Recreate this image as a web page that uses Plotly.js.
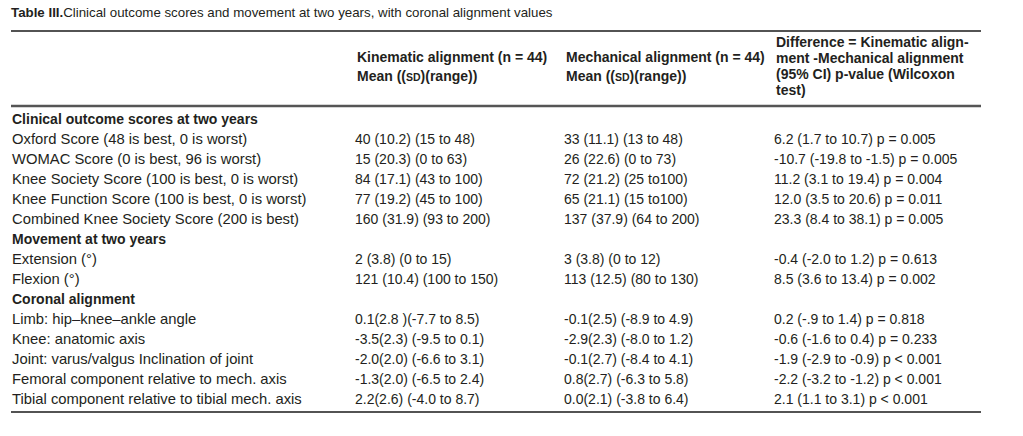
<!DOCTYPE html>
<html>
<head>
<meta charset="utf-8">
<script src="https://cdn.plot.ly/plotly-3.0.1.min.js"></script>
<style>html,body{margin:0;padding:0;background:#fff;}#chart{width:1023px;height:436px;}</style>
</head>
<body>
<div id="chart"></div>
<script>
// ---- data ----
const tableTitleBold = "Table III.";
const tableTitle = "Clinical outcome scores and movement at two years, with coronal alignment values";

const headerKinematic = ["Kinematic alignment (n = 44)", "Mean ((SD)(range))"];
const headerMechanical = ["Mechanical alignment (n = 44)", "Mean ((SD)(range))"];
const headerDifference = ["Difference = Kinematic align-", "ment -Mechanical alignment", "(95% CI) p-value (Wilcoxon", "test)"];

const sectionTitles = ["Clinical outcome scores at two years", "Movement at two years", "Coronal alignment"];

const measureLabels = [
  ["Oxford Score (48 is best, 0 is worst)", "WOMAC Score (0 is best, 96 is worst)", "Knee Society Score (100 is best, 0 is worst)", "Knee Function Score (100 is best, 0 is worst)", "Combined Knee Society Score (200 is best)"],
  ["Extension (°)", "Flexion (°)"],
  ["Limb: hip–knee–ankle angle", "Knee: anatomic axis", "Joint: varus/valgus Inclination of joint", "Femoral component relative to mech. axis", "Tibial component relative to tibial mech. axis"]
];

const kinematic = [
  ["40 (10.2) (15 to 48)", "15 (20.3) (0 to 63)", "84 (17.1) (43 to 100)", "77 (19.2) (45 to 100)", "160 (31.9) (93 to 200)"],
  ["2 (3.8) (0 to 15)", "121 (10.4) (100 to 150)"],
  ["0.1(2.8 )(-7.7 to 8.5)", "-3.5(2.3) (-9.5 to 0.1)", "-2.0(2.0) (-6.6 to 3.1)", "-1.3(2.0) (-6.5 to 2.4)", "2.2(2.6) (-4.0 to 8.7)"]
];

const mechanical = [
  ["33 (11.1) (13 to 48)", "26 (22.6) (0 to 73)", "72 (21.2) (25 to100)", "65 (21.1) (15 to100)", "137 (37.9) (64 to 200)"],
  ["3 (3.8) (0 to 12)", "113 (12.5) (80 to 130)"],
  ["-0.1(2.5) (-8.9 to 4.9)", "-2.9(2.3) (-8.0 to 1.2)", "-0.1(2.7) (-8.4 to 4.1)", "0.8(2.7) (-6.3 to 5.8)", "0.0(2.1) (-3.8 to 6.4)"]
];

const difference = [
  ["6.2 (1.7 to 10.7) p = 0.005", "-10.7 (-19.8 to -1.5) p = 0.005", "11.2 (3.1 to 19.4) p = 0.004", "12.0 (3.5 to 20.6) p = 0.011", "23.3 (8.4 to 38.1) p = 0.005"],
  ["-0.4 (-2.0 to 1.2) p = 0.613", "8.5 (3.6 to 13.4) p = 0.002"],
  ["0.2 (-.9 to 1.4) p = 0.818", "-0.6 (-1.6 to 0.4) p = 0.233", "-1.9 (-2.9 to -0.9) p < 0.001", "-2.2 (-3.2 to -1.2) p < 0.001", "2.1 (1.1 to 3.1) p < 0.001"]
];

// ---- build rows ----
const esc = s => s.replace(/&/g, "&amp;").replace(/</g, "&lt;").replace(/>/g, "&gt;");
const rowKeys = [];
const labelText = [];
const labelSize = [];
const valCols = [[[], []], [[], []], [[], []]]; // [y, text] per value column
sectionTitles.forEach((sec, si) => {
  rowKeys.push(sec);
  labelText.push("<b>" + esc(sec) + "</b>");
  labelSize.push(14);
  measureLabels[si].forEach((m, mi) => {
    rowKeys.push(m);
    labelText.push(esc(m));
    labelSize.push(14.8);
    [kinematic, mechanical, difference].forEach((arr, ci) => {
      valCols[ci][0].push(m);
      valCols[ci][1].push(esc(arr[si][mi]));
    });
  });
});

// ---- layout helpers (pixel -> paper) ----
const W = 1023, H = 436;
const px = p => p / W;
const py = p => 1 - p / H;
const FONT = '"Liberation Sans", Arial, Helvetica, sans-serif';
const INK = '#231f20';
const colX = [12, 355, 564, 774];
const colKeys = ["measure", "kinematic", "mechanical", "difference"];
const rowTop = 120.8, rowStep = 20; // pixel position of first row and spacing

const yRange = [(H - rowTop) / rowStep, -rowTop / rowStep];

const traces = [];
traces.push({
  type: 'scatter', mode: 'text', xaxis: 'x', yaxis: 'y',
  x: rowKeys.map(() => colKeys[0]), y: rowKeys, text: labelText,
  textposition: 'middle right', cliponaxis: false, hoverinfo: 'none',
  textfont: {family: FONT, size: labelSize, color: INK}
});
valCols.forEach((vc, ci) => {
  traces.push({
    type: 'scatter', mode: 'text', xaxis: 'x' + (ci + 2), yaxis: 'y',
    x: vc[0].map(() => colKeys[ci + 1]), y: vc[0], text: vc[1],
    textposition: 'middle right', cliponaxis: false, hoverinfo: 'none',
    textfont: {family: FONT, size: 14, color: INK}
  });
});

const hiddenX = (i) => ({
  domain: [px(colX[i]), px(colX[i]) + 0.05], type: 'category', range: [0, 1],
  visible: false, fixedrange: true, anchor: 'y'
});

const smallSD = s => esc(s).replace("SD", '<span style="font-size:10.5px">SD</span>');
const annotations = [];
const addHeader = (lines, ci, ys) => {
  lines.forEach((ln, li) => {
    annotations.push({
      xref: (ci === 0 ? 'x' : 'x' + (ci + 1)) + ' domain', x: 0, xanchor: 'left',
      yref: 'paper', y: py(ys[li]), yanchor: 'middle',
      text: '<b>' + smallSD(ln) + '</b>', showarrow: false,
      font: {family: FONT, size: 14, color: INK}
    });
  });
};
addHeader(headerKinematic, 1, [56.7, 76]);
addHeader(headerMechanical, 2, [56.7, 76]);
addHeader(headerDifference, 3, [42, 58, 74, 90]);

const lineShape = (y, w, c) => ({
  type: 'line', xref: 'paper', yref: 'paper', x0: px(11), x1: px(981), y0: py(y), y1: py(y),
  line: {color: c, width: w}
});

const layout = {
  width: W, height: H,
  margin: {l: 0, r: 0, t: 0, b: 0},
  paper_bgcolor: '#ffffff', plot_bgcolor: '#ffffff',
  showlegend: false,
  title: {
    text: '<b>' + tableTitleBold + '</b>' + tableTitle,
    x: px(11), xref: 'container', xanchor: 'left',
    y: 1 - 12.5 / H, yref: 'container', yanchor: 'middle',
    font: {family: FONT, size: 13.3, color: INK}
  },
  xaxis: hiddenX(0), xaxis2: hiddenX(1), xaxis3: hiddenX(2), xaxis4: hiddenX(3),
  yaxis: {
    domain: [0, 1], type: 'category', categoryorder: 'array', categoryarray: rowKeys,
    range: yRange, visible: false, fixedrange: true, anchor: 'x'
  },
  shapes: [lineShape(31, 1.3, '#1a1a1a'), lineShape(106, 2.6, '#555555'), lineShape(412, 1.3, '#1a1a1a')],
  annotations: annotations
};

Plotly.newPlot('chart', traces, layout, {displayModeBar: false, staticPlot: true});
</script>
</body>
</html>
